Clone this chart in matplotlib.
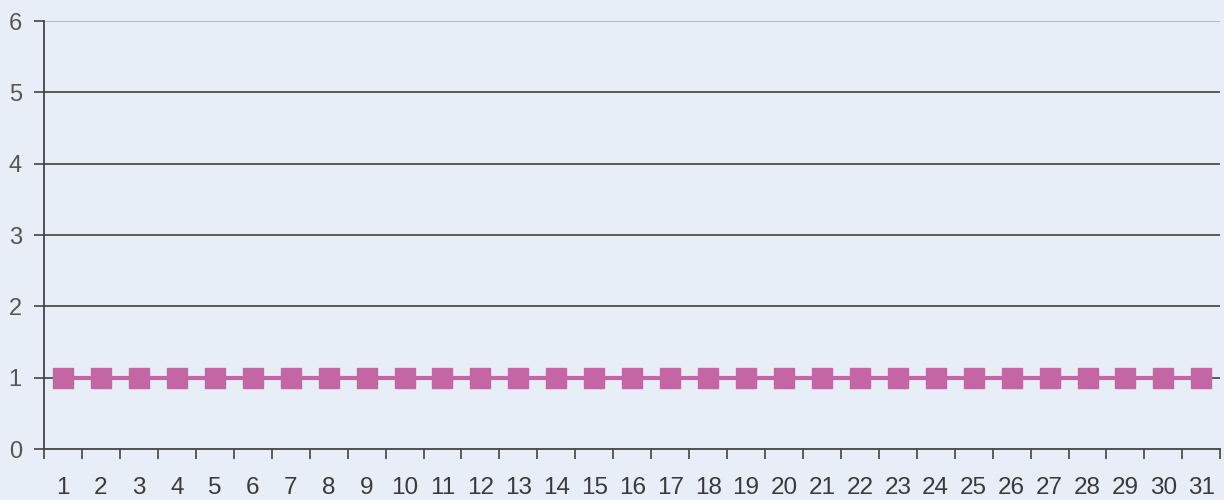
import numpy as np
import matplotlib.pyplot as plt

days = list(range(1, 32))
values = [1] * 31
y_ticks = [0, 1, 2, 3, 4, 5, 6]

plt.rcParams["font.family"] = ["Liberation Sans", "DejaVu Sans"]

bg = "#e8eef8"
fig = plt.figure(figsize=(12.24, 5), dpi=100, facecolor=bg)
ax = fig.add_axes([0.036, 0.102, 0.961, 0.856], facecolor=bg)

# horizontal gridlines (top one lighter)
for yv in y_ticks[1:-1]:
    ax.axhline(yv, color="#4a504a", lw=1.3, zorder=1)
ax.axhline(6, color="#a9b8d0", lw=1.3, zorder=1)

ax.plot(days, values, color="#c466a4", lw=3, marker="s", markersize=15,
        markerfacecolor="#c466a4", markeredgecolor="#c466a4", zorder=3)

ax.set_xlim(0.5, 31.5)
ax.set_ylim(0, 6)
ax.set_yticks(y_ticks)
ax.set_xticks(days)
ax.set_xticklabels([str(d) for d in days])
ax.set_xticks(np.arange(0.5, 32, 1), minor=True)
ax.tick_params(axis="x", which="major", length=0, pad=20, labelsize=17.5, labelcolor="#3a3a3a")
ax.tick_params(axis="x", which="minor", length=7, width=1.2, color="#444444", direction="out")
ax.tick_params(axis="y", length=7, width=1.2, color="#444444", pad=9, labelsize=17, labelcolor="#555555")

for side in ["top", "right"]:
    ax.spines[side].set_visible(False)
for side in ["left", "bottom"]:
    ax.spines[side].set_color("#444444")
    ax.spines[side].set_linewidth(1.3)

fig.savefig("out.png", dpi=100, facecolor=bg)
